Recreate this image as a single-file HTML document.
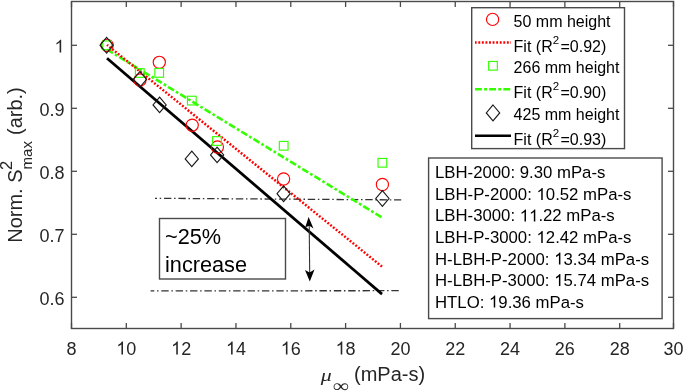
<!DOCTYPE html>
<html><head><meta charset="utf-8"><style>
html,body{margin:0;padding:0;background:#fff;width:685px;height:392px;overflow:hidden}
svg{display:block;will-change:transform}
text{font-family:"Liberation Sans", sans-serif;font-kerning:none}
.o{fill-opacity:0}
</style></head><body>
<svg width="685" height="392" viewBox="0 0 685 392">
<rect x="71.5" y="1.5" width="602.0" height="327.0" fill="none" stroke="#4a4a4a" stroke-width="1.4"/>
<line x1="71.50" y1="328.5" x2="71.50" y2="323.0" stroke="#4a4a4a" stroke-width="1.3"/>
<line x1="71.50" y1="1.5" x2="71.50" y2="7.0" stroke="#4a4a4a" stroke-width="1.3"/>
<text class="w1" x="71.50" y="354.5" font-size="18" text-anchor="middle" fill="#262626">8</text>
<line x1="126.32" y1="328.5" x2="126.32" y2="323.0" stroke="#4a4a4a" stroke-width="1.3"/>
<line x1="126.32" y1="1.5" x2="126.32" y2="7.0" stroke="#4a4a4a" stroke-width="1.3"/>
<text class="w1" x="126.32" y="354.5" font-size="18" text-anchor="middle" fill="#262626"><tspan class="o">1</tspan>0</text>
<line x1="181.14" y1="328.5" x2="181.14" y2="323.0" stroke="#4a4a4a" stroke-width="1.3"/>
<line x1="181.14" y1="1.5" x2="181.14" y2="7.0" stroke="#4a4a4a" stroke-width="1.3"/>
<text class="w1" x="181.14" y="354.5" font-size="18" text-anchor="middle" fill="#262626"><tspan class="o">1</tspan>2</text>
<line x1="235.96" y1="328.5" x2="235.96" y2="323.0" stroke="#4a4a4a" stroke-width="1.3"/>
<line x1="235.96" y1="1.5" x2="235.96" y2="7.0" stroke="#4a4a4a" stroke-width="1.3"/>
<text class="w1" x="235.96" y="354.5" font-size="18" text-anchor="middle" fill="#262626"><tspan class="o">1</tspan>4</text>
<line x1="290.78" y1="328.5" x2="290.78" y2="323.0" stroke="#4a4a4a" stroke-width="1.3"/>
<line x1="290.78" y1="1.5" x2="290.78" y2="7.0" stroke="#4a4a4a" stroke-width="1.3"/>
<text class="w1" x="290.78" y="354.5" font-size="18" text-anchor="middle" fill="#262626"><tspan class="o">1</tspan>6</text>
<line x1="345.60" y1="328.5" x2="345.60" y2="323.0" stroke="#4a4a4a" stroke-width="1.3"/>
<line x1="345.60" y1="1.5" x2="345.60" y2="7.0" stroke="#4a4a4a" stroke-width="1.3"/>
<text class="w1" x="345.60" y="354.5" font-size="18" text-anchor="middle" fill="#262626"><tspan class="o">1</tspan>8</text>
<line x1="400.42" y1="328.5" x2="400.42" y2="323.0" stroke="#4a4a4a" stroke-width="1.3"/>
<line x1="400.42" y1="1.5" x2="400.42" y2="7.0" stroke="#4a4a4a" stroke-width="1.3"/>
<text class="w1" x="400.42" y="354.5" font-size="18" text-anchor="middle" fill="#262626">20</text>
<line x1="455.24" y1="328.5" x2="455.24" y2="323.0" stroke="#4a4a4a" stroke-width="1.3"/>
<line x1="455.24" y1="1.5" x2="455.24" y2="7.0" stroke="#4a4a4a" stroke-width="1.3"/>
<text class="w1" x="455.24" y="354.5" font-size="18" text-anchor="middle" fill="#262626">22</text>
<line x1="510.06" y1="328.5" x2="510.06" y2="323.0" stroke="#4a4a4a" stroke-width="1.3"/>
<line x1="510.06" y1="1.5" x2="510.06" y2="7.0" stroke="#4a4a4a" stroke-width="1.3"/>
<text class="w1" x="510.06" y="354.5" font-size="18" text-anchor="middle" fill="#262626">24</text>
<line x1="564.88" y1="328.5" x2="564.88" y2="323.0" stroke="#4a4a4a" stroke-width="1.3"/>
<line x1="564.88" y1="1.5" x2="564.88" y2="7.0" stroke="#4a4a4a" stroke-width="1.3"/>
<text class="w1" x="564.88" y="354.5" font-size="18" text-anchor="middle" fill="#262626">26</text>
<line x1="619.70" y1="328.5" x2="619.70" y2="323.0" stroke="#4a4a4a" stroke-width="1.3"/>
<line x1="619.70" y1="1.5" x2="619.70" y2="7.0" stroke="#4a4a4a" stroke-width="1.3"/>
<text class="w1" x="619.70" y="354.5" font-size="18" text-anchor="middle" fill="#262626">28</text>
<line x1="673.50" y1="328.5" x2="673.50" y2="323.0" stroke="#4a4a4a" stroke-width="1.3"/>
<line x1="673.50" y1="1.5" x2="673.50" y2="7.0" stroke="#4a4a4a" stroke-width="1.3"/>
<text class="w1" x="673.50" y="354.5" font-size="18" text-anchor="middle" fill="#262626">30</text>
<line x1="71.5" y1="297.30" x2="77.0" y2="297.30" stroke="#4a4a4a" stroke-width="1.3"/>
<line x1="673.5" y1="297.30" x2="668.0" y2="297.30" stroke="#4a4a4a" stroke-width="1.3"/>
<text class="w1" x="64.5" y="304.60" font-size="18" text-anchor="end" fill="#262626">0.6</text>
<line x1="71.5" y1="234.30" x2="77.0" y2="234.30" stroke="#4a4a4a" stroke-width="1.3"/>
<line x1="673.5" y1="234.30" x2="668.0" y2="234.30" stroke="#4a4a4a" stroke-width="1.3"/>
<text class="w1" x="64.5" y="241.60" font-size="18" text-anchor="end" fill="#262626">0.7</text>
<line x1="71.5" y1="171.30" x2="77.0" y2="171.30" stroke="#4a4a4a" stroke-width="1.3"/>
<line x1="673.5" y1="171.30" x2="668.0" y2="171.30" stroke="#4a4a4a" stroke-width="1.3"/>
<text class="w1" x="64.5" y="178.60" font-size="18" text-anchor="end" fill="#262626">0.8</text>
<line x1="71.5" y1="108.30" x2="77.0" y2="108.30" stroke="#4a4a4a" stroke-width="1.3"/>
<line x1="673.5" y1="108.30" x2="668.0" y2="108.30" stroke="#4a4a4a" stroke-width="1.3"/>
<text class="w1" x="64.5" y="115.60" font-size="18" text-anchor="end" fill="#262626">0.9</text>
<line x1="71.5" y1="45.30" x2="77.0" y2="45.30" stroke="#4a4a4a" stroke-width="1.3"/>
<line x1="673.5" y1="45.30" x2="668.0" y2="45.30" stroke="#4a4a4a" stroke-width="1.3"/>
<text class="w1" x="64.5" y="52.60" font-size="18" text-anchor="end" fill="#262626"><tspan class="o">1</tspan></text>
<text transform="translate(320.8,381.0) scale(1.25,1)" font-size="17.5" style="font-family:&quot;Liberation Serif&quot;;font-style:italic" fill="#262626">μ</text>
<text transform="translate(332.4,391.6) scale(1.25,1)" font-size="18" style="font-family:&quot;Liberation Serif&quot;" fill="#262626">∞</text>
<text x="354.0" y="380.5" font-size="20" fill="#262626">(mPa-s)</text>
<g transform="translate(22.3,242.8) rotate(-90)" fill="#262626"><text x="0" y="0" font-size="20">Norm. S</text><text x="72.8" y="-9.9" font-size="16.5">2</text><text x="73.4" y="9.8" font-size="15">max</text><text x="107.8" y="0" font-size="20">(arb.)</text></g>
<line x1="155" y1="198.3" x2="401.2" y2="199.9" stroke="#333" stroke-width="1.3" stroke-dasharray="7.4 2.7 1.5 2.78" stroke-dashoffset="5.4"/>
<line x1="150.6" y1="290.9" x2="398.8" y2="290.7" stroke="#333" stroke-width="1.3" stroke-dasharray="7.4 2.7 1.5 2.78" stroke-dashoffset="3.7"/>
<line x1="107" y1="58.2" x2="382" y2="294.1" stroke="#000" stroke-width="2.8"/>
<line x1="107" y1="49.5" x2="382" y2="217.5" stroke="#33ff00" stroke-width="2.6" stroke-dasharray="7 2.3 2.7 2.3"/>
<line x1="107" y1="44.9" x2="382" y2="266.6" stroke="#ff0000" stroke-width="2.5" stroke-dasharray="1.9 1.69" stroke-dashoffset="0.45"/>
<circle cx="107.1" cy="45.3" r="6.1" fill="none" stroke="#ff0000" stroke-width="1.15"/>
<circle cx="140" cy="80" r="6.1" fill="none" stroke="#ff0000" stroke-width="1.15"/>
<circle cx="159.3" cy="62.3" r="6.1" fill="none" stroke="#ff0000" stroke-width="1.15"/>
<circle cx="192.2" cy="125.2" r="6.1" fill="none" stroke="#ff0000" stroke-width="1.15"/>
<circle cx="217.4" cy="147" r="6.1" fill="none" stroke="#ff0000" stroke-width="1.15"/>
<circle cx="283.6" cy="179" r="6.1" fill="none" stroke="#ff0000" stroke-width="1.15"/>
<circle cx="382.4" cy="184.5" r="6.1" fill="none" stroke="#ff0000" stroke-width="1.15"/>
<rect x="102.75" y="40.95" width="8.7" height="8.7" fill="none" stroke="#33ff00" stroke-width="1.15"/>
<rect x="135.45" y="68.65" width="8.7" height="8.7" fill="none" stroke="#33ff00" stroke-width="1.15"/>
<rect x="154.85" y="68.55" width="8.7" height="8.7" fill="none" stroke="#33ff00" stroke-width="1.15"/>
<rect x="187.45" y="96.25" width="8.7" height="8.7" fill="none" stroke="#33ff00" stroke-width="1.15"/>
<rect x="212.65" y="136.65" width="8.7" height="8.7" fill="none" stroke="#33ff00" stroke-width="1.15"/>
<rect x="279.35" y="141.45" width="8.7" height="8.7" fill="none" stroke="#33ff00" stroke-width="1.15"/>
<rect x="378.05" y="158.45" width="8.7" height="8.7" fill="none" stroke="#33ff00" stroke-width="1.15"/>
<path d="M106.6 37.40L113.20 45.2L106.6 53.00L100.00 45.2Z" fill="none" stroke="#1a1a1a" stroke-width="1.15"/>
<path d="M140 71.50L146.60 79.3L140 87.10L133.40 79.3Z" fill="none" stroke="#1a1a1a" stroke-width="1.15"/>
<path d="M159.6 97.10L166.20 104.9L159.6 112.70L153.00 104.9Z" fill="none" stroke="#1a1a1a" stroke-width="1.15"/>
<path d="M191.8 151.10L198.40 158.9L191.8 166.70L185.20 158.9Z" fill="none" stroke="#1a1a1a" stroke-width="1.15"/>
<path d="M217.1 147.10L223.70 154.9L217.1 162.70L210.50 154.9Z" fill="none" stroke="#1a1a1a" stroke-width="1.15"/>
<path d="M283.6 185.90L290.20 193.7L283.6 201.50L277.00 193.7Z" fill="none" stroke="#1a1a1a" stroke-width="1.15"/>
<path d="M382.4 190.70L389.00 198.5L382.4 206.30L375.80 198.5Z" fill="none" stroke="#1a1a1a" stroke-width="1.15"/>
<line x1="309.2" y1="224" x2="309.7" y2="274" stroke="#333" stroke-width="1.1"/>
<path d="M308.6 217 L313.5 228.4 L309.4 225.8 L305.3 227.2 Z" fill="#000"/>
<path d="M309.8 281.4 L305 270 L309.6 272.6 L314.5 269.6 Z" fill="#000"/>
<rect x="159.5" y="218.5" width="126" height="60.5" fill="#fff" stroke="#4a4a4a" stroke-width="1.4"/>
<text x="165" y="243.9" font-size="21.7" fill="#000">~25%</text>
<text x="165" y="271.9" font-size="21.7" fill="#000">increase</text>
<rect x="471.7" y="7.7" width="152.8" height="140.9" fill="#fff" stroke="#4a4a4a" stroke-width="1.4"/>
<circle cx="492.6" cy="19.4" r="6.1" fill="none" stroke="#ff0000" stroke-width="1.15"/>
<line x1="475" y1="42.4" x2="511" y2="42.4" stroke="#ff0000" stroke-width="2.5" stroke-dasharray="1.9 1.67" stroke-dashoffset="0.25"/>
<rect x="488.65" y="61.45" width="8.7" height="8.7" fill="none" stroke="#33ff00" stroke-width="1.15"/>
<line x1="475" y1="89.3" x2="511" y2="89.3" stroke="#33ff00" stroke-width="2.6" stroke-dasharray="6.9 2.2 2.9 2.15"/>
<path d="M493.0 105.00L499.70 112.9L493.0 120.80L486.30 112.9Z" fill="none" stroke="#1a1a1a" stroke-width="1.15"/>
<line x1="475" y1="135.7" x2="511" y2="135.7" stroke="#000" stroke-width="2.5"/>
<text x="513.6" y="26.70" font-size="16" fill="#000">50 mm height</text>
<text x="513.6" y="51.60" font-size="16" fill="#000">Fit (R<tspan font-size="11.5" dy="-7.9">2</tspan><tspan dy="7.9" dx="1.4">=0.92)</tspan></text>
<text x="513.6" y="73.10" font-size="16" fill="#000">266 mm height</text>
<text x="513.6" y="98.30" font-size="16" fill="#000">Fit (R<tspan font-size="11.5" dy="-7.9">2</tspan><tspan dy="7.9" dx="1.4">=0.90)</tspan></text>
<text x="513.6" y="120.20" font-size="16" fill="#000">425 mm height</text>
<text x="513.6" y="144.90" font-size="16" fill="#000">Fit (R<tspan font-size="11.5" dy="-7.9">2</tspan><tspan dy="7.9" dx="1.4">=0.93)</tspan></text>
<rect x="428.6" y="158" width="233.5" height="160.6" fill="#fff" stroke="#4a4a4a" stroke-width="1.4"/>
<text class="w1" x="435" y="178.40" font-size="16.75" fill="#000">LBH-2000: 9.30 mPa-s</text>
<text class="w1" x="435" y="199.93" font-size="16.75" fill="#000">LBH-P-2000: <tspan class="o">1</tspan>0.52 mPa-s</text>
<text class="w1" x="435" y="221.46" font-size="16.75" fill="#000">LBH-3000: <tspan class="o">1</tspan><tspan class="o">1</tspan>.22 mPa-s</text>
<text class="w1" x="435" y="242.99" font-size="16.75" fill="#000">LBH-P-3000: <tspan class="o">1</tspan>2.42 mPa-s</text>
<text class="w1" x="435" y="264.52" font-size="16.75" fill="#000">H-LBH-P-2000: <tspan class="o">1</tspan>3.34 mPa-s</text>
<text class="w1" x="435" y="286.05" font-size="16.75" fill="#000">H-LBH-P-3000: <tspan class="o">1</tspan>5.74 mPa-s</text>
<text class="w1" x="435" y="307.58" font-size="16.75" fill="#000">HTLO: <tspan class="o">1</tspan>9.36 mPa-s</text>
<path transform="translate(116.30,354.50) scale(0.008789,-0.008789)" d="M763 0L583 0L583 1147Q518 1085 412 1023Q306 961 222 930L222 1104Q373 1175 486 1276Q599 1377 646 1466L763 1466Z" fill="#262626"/>
<path transform="translate(171.12,354.50) scale(0.008789,-0.008789)" d="M763 0L583 0L583 1147Q518 1085 412 1023Q306 961 222 930L222 1104Q373 1175 486 1276Q599 1377 646 1466L763 1466Z" fill="#262626"/>
<path transform="translate(225.94,354.50) scale(0.008789,-0.008789)" d="M763 0L583 0L583 1147Q518 1085 412 1023Q306 961 222 930L222 1104Q373 1175 486 1276Q599 1377 646 1466L763 1466Z" fill="#262626"/>
<path transform="translate(280.76,354.50) scale(0.008789,-0.008789)" d="M763 0L583 0L583 1147Q518 1085 412 1023Q306 961 222 930L222 1104Q373 1175 486 1276Q599 1377 646 1466L763 1466Z" fill="#262626"/>
<path transform="translate(335.58,354.50) scale(0.008789,-0.008789)" d="M763 0L583 0L583 1147Q518 1085 412 1023Q306 961 222 930L222 1104Q373 1175 486 1276Q599 1377 646 1466L763 1466Z" fill="#262626"/>
<path transform="translate(54.48,52.60) scale(0.008789,-0.008789)" d="M763 0L583 0L583 1147Q518 1085 412 1023Q306 961 222 930L222 1104Q373 1175 486 1276Q599 1377 646 1466L763 1466Z" fill="#262626"/>
<path transform="translate(536.48,199.93) scale(0.008179,-0.008179)" d="M763 0L583 0L583 1147Q518 1085 412 1023Q306 961 222 930L222 1104Q373 1175 486 1276Q599 1377 646 1466L763 1466Z" fill="#000"/>
<path transform="translate(519.73,221.46) scale(0.008179,-0.008179)" d="M763 0L583 0L583 1147Q518 1085 412 1023Q306 961 222 930L222 1104Q373 1175 486 1276Q599 1377 646 1466L763 1466Z" fill="#000"/>
<path transform="translate(529.06,221.46) scale(0.008179,-0.008179)" d="M763 0L583 0L583 1147Q518 1085 412 1023Q306 961 222 930L222 1104Q373 1175 486 1276Q599 1377 646 1466L763 1466Z" fill="#000"/>
<path transform="translate(536.48,242.99) scale(0.008179,-0.008179)" d="M763 0L583 0L583 1147Q518 1085 412 1023Q306 961 222 930L222 1104Q373 1175 486 1276Q599 1377 646 1466L763 1466Z" fill="#000"/>
<path transform="translate(554.16,264.52) scale(0.008179,-0.008179)" d="M763 0L583 0L583 1147Q518 1085 412 1023Q306 961 222 930L222 1104Q373 1175 486 1276Q599 1377 646 1466L763 1466Z" fill="#000"/>
<path transform="translate(554.16,286.05) scale(0.008179,-0.008179)" d="M763 0L583 0L583 1147Q518 1085 412 1023Q306 961 222 930L222 1104Q373 1175 486 1276Q599 1377 646 1466L763 1466Z" fill="#000"/>
<path transform="translate(488.98,307.58) scale(0.008179,-0.008179)" d="M763 0L583 0L583 1147Q518 1085 412 1023Q306 961 222 930L222 1104Q373 1175 486 1276Q599 1377 646 1466L763 1466Z" fill="#000"/>
</svg>
</body></html>
